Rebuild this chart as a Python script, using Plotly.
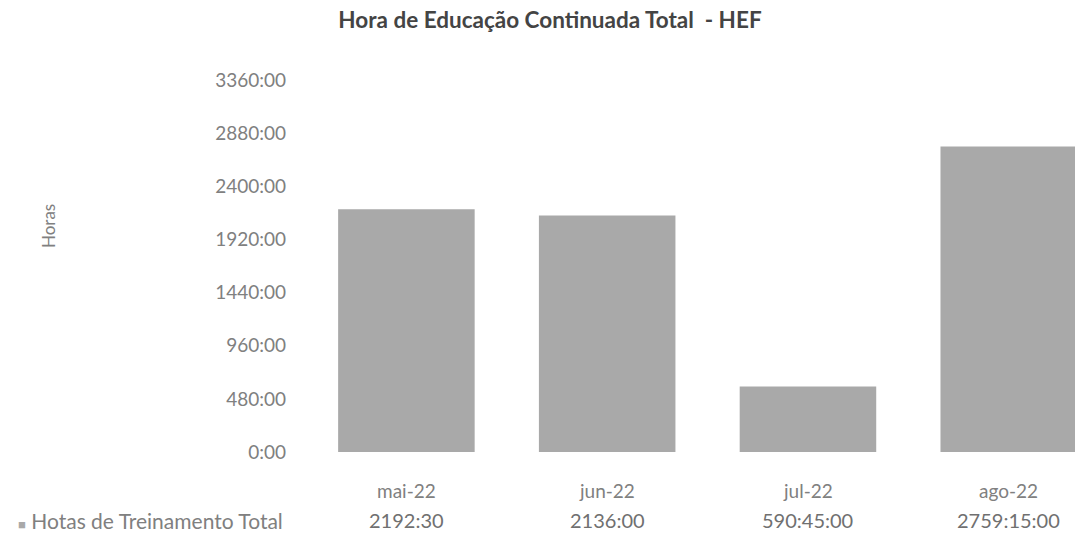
import plotly.graph_objects as go

# Monthly continuing-education hours (HEF)
months = ["mai-22", "jun-22", "jul-22", "ago-22"]
value_labels = ["2192:30", "2136:00", "590:45:00", "2759:15:00"]
series_name = "Hotas de Treinamento Total"
tick_values = [0, 480, 960, 1440, 1920, 2400, 2880, 3360]
tick_labels = ["0:00", "480:00", "960:00", "1440:00", "1920:00", "2400:00", "2880:00", "3360:00"]


def to_hours(text):
    parts = [int(p) for p in text.split(":")]
    h, m = parts[0], parts[1]
    s = parts[2] if len(parts) > 2 else 0
    return h + m / 60 + s / 3600


hours = [to_hours(t) for t in value_labels]

FONT = "Lato, 'Open Sans', sans-serif"
BAR = "#a9a9a9"
TXT = "#808080"

fig = go.Figure(
    go.Bar(
        x=months,
        y=hours,
        marker=dict(color=BAR, line=dict(width=0)),
        name=series_name,
        showlegend=False,
    )
)

W, H = 1075, 536
left, right, top, bottom = 306, 0, 80, 84
plot_w = W - left - right
plot_h = H - top - bottom

fig.update_layout(
    width=W,
    height=H,
    margin=dict(l=left, r=right, t=top, b=bottom),
    paper_bgcolor="white",
    plot_bgcolor="white",
    bargap=0.32,
    font=dict(family=FONT, color=TXT, size=19),
    title=dict(
        text="<b>Hora de Educação Continuada Total  - HEF</b>",
        x=550 / W,
        xanchor="center",
        y=1 - 20 / H,
        yanchor="middle",
        font=dict(family=FONT, size=22.5, color="#444444"),
    ),
    xaxis=dict(
        range=[-0.5, 3.33],
        showticklabels=False,
        showgrid=False,
        zeroline=False,
        showline=False,
        ticks="",
        fixedrange=True,
    ),
    yaxis=dict(
        range=[0, 3360],
        tickvals=tick_values,
        ticktext=tick_labels,
        showgrid=False,
        zeroline=False,
        showline=False,
        ticks="",
        ticklabelstandoff=19,
        tickfont=dict(family=FONT, size=19, color=TXT),
        fixedrange=True,
    ),
)


def ypix(py):
    # pixel row -> paper coordinate
    return (H - bottom - py) / plot_h


def xpix(px):
    # pixel column -> paper coordinate
    return (px - left) / plot_w


# y-axis title
fig.add_annotation(
    x=xpix(48), y=ypix(226), xref="paper", yref="paper", text="Horas",
    textangle=-90, showarrow=False, xanchor="center", yanchor="middle",
    font=dict(family=FONT, size=17, color=TXT),
)

# data table under the bars: month row and value row
for m, lbl in zip(months, value_labels):
    fig.add_annotation(x=m, y=ypix(491), xref="x", yref="paper", text=m,
                       showarrow=False, xanchor="center", yanchor="middle",
                       font=dict(family=FONT, size=19, color=TXT))
    fig.add_annotation(x=m, y=ypix(520), xref="x", yref="paper", text=lbl,
                       showarrow=False, xanchor="center", yanchor="middle",
                       font=dict(family=FONT, size=20, color="#707070"))

fig.add_annotation(
    x=xpix(285), y=ypix(520), xref="paper", yref="paper",
    text=f"<span style='color:{BAR};font-size:13px'>■</span> {series_name}",
    showarrow=False, xanchor="right", yanchor="middle",
    font=dict(family=FONT, size=21, color=TXT),
)

fig.write_html("out.html")
